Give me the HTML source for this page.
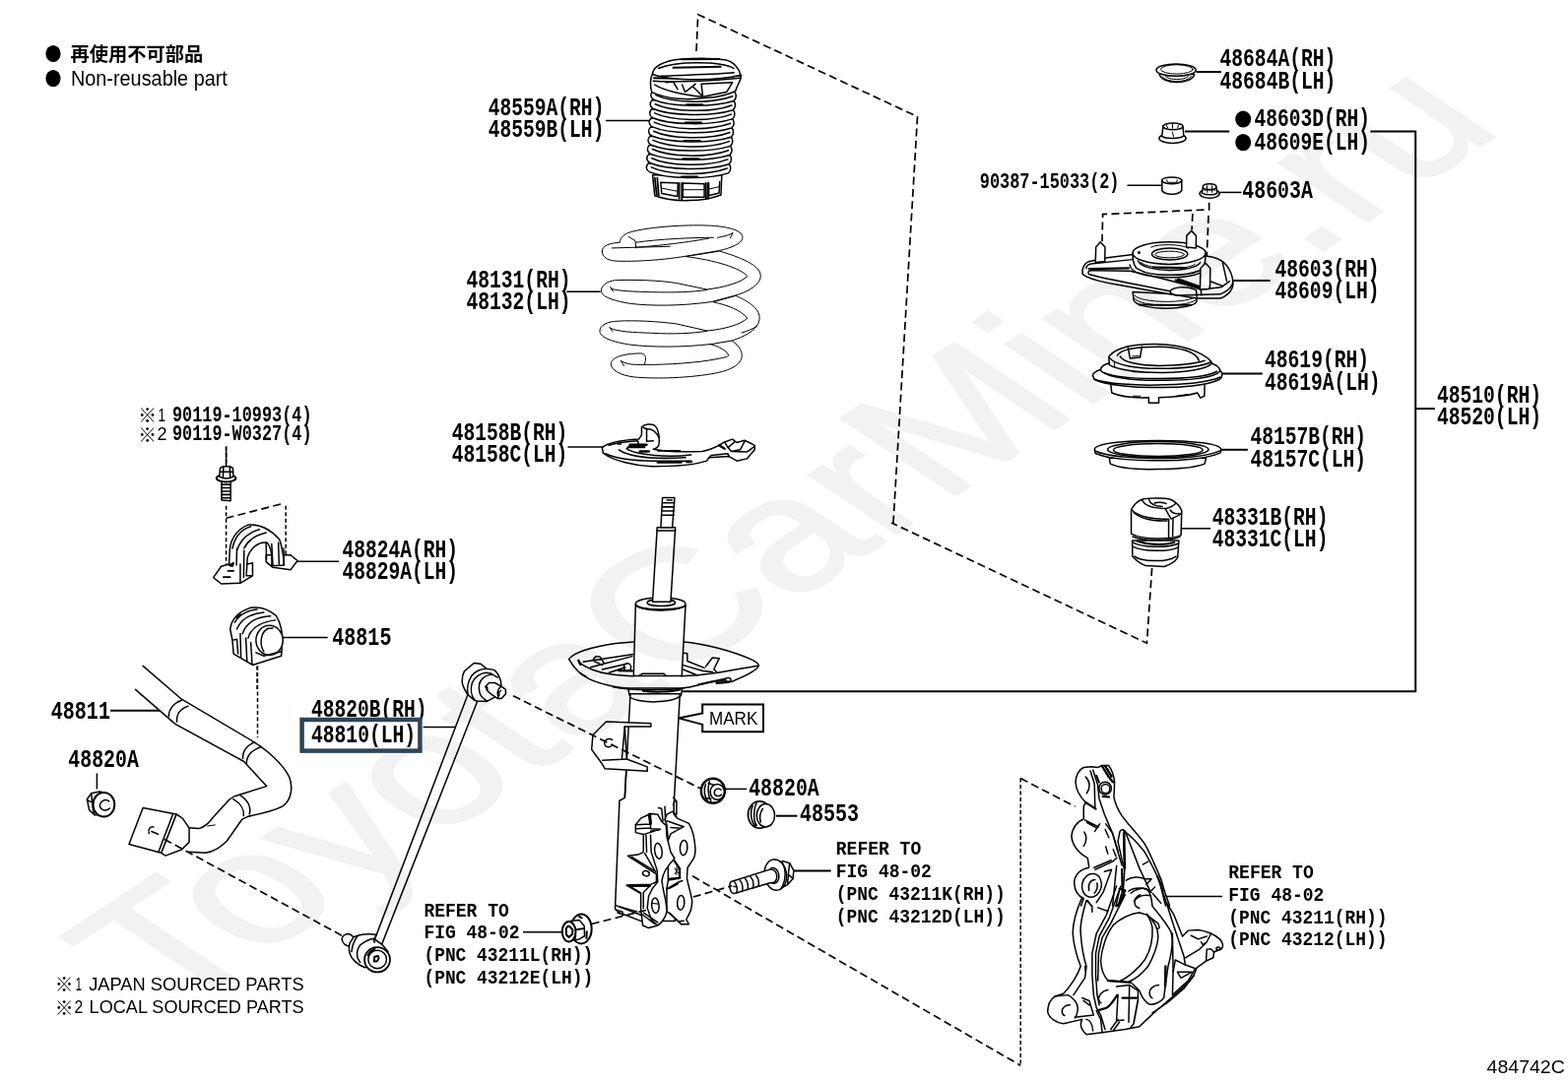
<!DOCTYPE html>
<html><head><meta charset="utf-8"><title>484742C</title>
<style>
html,body{margin:0;padding:0;background:#fff;}
body{width:1592px;height:1099px;overflow:hidden;font-family:"Liberation Sans",sans-serif;}
svg{display:block}
text{fill:#000}
.l{fill:none;stroke:#000;stroke-width:1.5;stroke-linecap:round;stroke-linejoin:round;vector-effect:non-scaling-stroke}
.t{fill:none;stroke:#000;stroke-width:1;stroke-linecap:round;stroke-linejoin:round;vector-effect:non-scaling-stroke}
.w{fill:#fff;stroke:#000;stroke-width:1.5;stroke-linecap:round;stroke-linejoin:round;vector-effect:non-scaling-stroke}
.wt{fill:#fff;stroke:#000;stroke-width:1;stroke-linecap:round;stroke-linejoin:round;vector-effect:non-scaling-stroke}
.d{fill:none;stroke:#000;stroke-width:1.7;stroke-dasharray:8 4.3;vector-effect:non-scaling-stroke}
.dd{fill:none;stroke:#000;stroke-width:1.5;stroke-dasharray:4 2.5;vector-effect:non-scaling-stroke}
.ld{fill:none;stroke:#000;stroke-width:2}
</style></head><body>
<svg width="1592" height="1099" viewBox="0 0 1592 1099">
<rect width="1592" height="1099" fill="#fff"/>
<!-- 01_leaders.svg -->
<g class="ld">
<path d="M1391.4 133.6H1437.2V702.3H693"/>
<path d="M1437 415.1H1457"/>
<path d="M1214.6 73H1240"/>
<path d="M1203 133.6H1248.2"/>
<path d="M1252 285H1289.6"/>
<path d="M1240.6 379.6H1281.7"/>
<path d="M1239 456.8H1266.9"/>
<path d="M112.1 721.8H163.1"/>
<path d="M788 828.7H809.4"/>
<path d="M805.5 884.4H843.7"/>
</g>
<g class="ld" style="stroke-width:1.5">
<path d="M1144.5 188.2H1179.6"/>
<path d="M1238.4 195.4H1260.5"/>
<path d="M1199.5 536.8H1229.2"/>
<path d="M615 122.4H659"/>
<path d="M575.2 296.2H609.6"/>
<path d="M576.4 454H611.9"/>
<path d="M302.2 570.2H344.2"/>
<path d="M286.9 647.6H332.7"/>
<path d="M429.6 738.4H462.3"/>
<path d="M531 946.7H571.1"/>
<path d="M735.4 801.4H758"/>
<path d="M1183 910.6H1241"/>
<path d="M229.6 453.5V473.9"/>
<path d="M98.4 785.5V801.4"/>
</g>

<!-- 10_topright_small.svg -->
<!-- zoom [1150,50,1270,220] s=6.467 -->
<g transform="translate(1150,50) scale(0.15463)">
 <!-- cap 48684A -->
 <path class="w" d="M175 160 C185 235 390 235 405 165 Z"/>
 <path class="t" d="M195 180 C215 222 360 222 385 178"/>
 <path class="t" d="M215 178 C240 205 340 205 365 178"/>
 <ellipse class="w" cx="285" cy="137" rx="130" ry="40"/>
 <ellipse class="t" cx="290" cy="132" rx="106" ry="30"/>
 <!-- nut 48603D -->
 <ellipse class="w" cx="262" cy="585" rx="88" ry="32"/>
 <path class="w" d="M200 505 L192 572 C215 590 310 590 335 570 L330 508 Z"/>
 <ellipse class="w" cx="265" cy="507" rx="65" ry="22"/>
 <path class="t" d="M222 500 L230 515 M262 492 L262 520 M300 500 L296 516 M262 545 L268 575"/>
 <!-- spacer 90387 -->
 <path class="w" d="M193 862 L193 930 C215 960 300 960 322 928 L322 862 Z"/>
 <ellipse class="w" cx="257" cy="862" rx="65" ry="22"/>
 <path class="t" d="M225 858 L228 875 L290 875 L292 858"/>
 <!-- small nut 48603A -->
 <ellipse class="w" cx="505" cy="948" rx="65" ry="30"/>
 <path class="w" d="M462 905 L455 945 C480 960 535 960 555 945 L548 905 Z"/>
 <ellipse class="w" cx="505" cy="903" rx="44" ry="18"/>
 <path class="t" d="M488 897 L490 940 M522 897 L520 940 M470 925 L540 925"/>
</g>

<!-- 11_mount.svg -->
<!-- zoom [1085,195,1275,325] s=8.379 -->
<g transform="translate(1085,195) scale(0.119346)">
 <!-- dashed -->
 <path class="d" d="M1195 90 L1195 150 L290 190 L285 420"/>
 <path class="d" d="M1055 185 L1048 322"/>
 <path class="d" d="M1190 200 L1173 600"/>
 <!-- bottom cylinder -->
 <path class="w" d="M545 850 L555 925 C600 1010 1040 1010 1088 935 L1092 880 Z"/>
 <path class="t" d="M552 900 C600 985 1040 985 1090 910"/>
 <path class="t" d="M560 880 C620 950 1020 950 1085 890"/>
 <path class="l" d="M600 960 L1040 962" style="stroke-width:2;stroke-dasharray:2 1.5"/>
 <!-- base plate -->
 <path class="w" d="M118 695 C108 655 135 605 170 592 L312 562 L548 532 L1165 545 C1240 550 1300 575 1340 620 C1380 670 1400 740 1398 790 C1390 850 1330 895 1290 905 L1100 905 C900 880 600 820 420 790 C300 770 200 745 150 720 C130 710 120 705 118 695 Z"/>
 <path class="l" d="M150 650 C150 630 165 618 190 612 L540 575"/>
 <path class="l" d="M175 655 L510 648" style="stroke-width:2.4"/>
 <path class="l" d="M168 690 C165 675 175 668 195 668 L520 672 C650 700 900 760 1100 820"/>
 <path class="l" d="M170 700 C300 740 600 790 860 845 C900 800 1020 800 1085 835 L1090 890"/>
 <path class="l" d="M860 845 C870 870 900 880 940 880 L1290 870 C1340 850 1380 820 1395 780"/>
 <path class="l" d="M910 750 L1130 830 M930 740 L1140 815" style="stroke-width:2"/>
 <path class="l" d="M1130 880 L1125 830 L1300 810 L1370 760"/>
 <path class="l" d="M1310 600 L1345 760 M1205 760 L1310 800"/>
 <!-- housing tiers -->
 <path class="w" d="M545 520 C545 600 560 650 600 660 C700 720 1000 720 1110 670 C1150 650 1165 600 1165 540 Z"/>
 <path class="l" d="M590 585 C640 690 1060 690 1120 600"/>
 <path class="t" d="M615 600 C680 660 1000 670 1075 615"/>
 <path class="l" d="M520 620 C530 685 620 722 850 727 C1000 727 1090 705 1112 690"/>
 <path class="l" d="M720 640 L1000 645" style="stroke-width:2"/>
 <ellipse class="w" cx="855" cy="520" rx="310" ry="95"/>
 <ellipse class="l" cx="860" cy="528" rx="152" ry="50"/>
 <ellipse class="t" cx="860" cy="532" rx="125" ry="28"/>
 <path class="t" d="M700 470 C760 440 960 440 1020 480"/>
 <rect x="588" y="505" width="22" height="22"/>
 <!-- studs -->
 <path class="w" d="M228 600 L232 470 L270 425 L310 470 L308 590 Z"/>
 <path class="w" d="M1002 470 L1004 372 L1045 330 L1085 372 L1083 478 Z"/>
 <path class="w" d="M1118 830 L1122 650 L1165 605 L1205 650 L1203 800 L1195 825 Z"/>
</g>

<!-- 12_insulator_ring.svg -->
<!-- zoom [1095,335,1255,495] s=6.869 -->
<g transform="translate(1095,335) scale(0.145585)">
 <!-- 48619 lower body -->
 <path class="w" d="M225 380 L232 440 C300 470 420 475 490 472 L490 510 L560 510 L560 472 C680 470 780 455 830 440 L850 475 L878 462 L880 370 Z"/>
 <path class="t" d="M380 462 L430 462 M680 462 L760 450"/>
 <!-- flange -->
 <path class="w" d="M100 322 C95 300 130 285 160 275 L985 280 C1010 300 1005 330 985 345 C900 390 700 405 550 402 C400 405 180 385 110 345 Z"/>
 <path class="l" d="M110 345 C200 378 400 388 550 385 C700 385 900 370 990 330"/>
 <path class="w" d="M155 285 C150 260 180 240 215 232 L930 235 C960 245 990 265 985 290 C940 340 740 355 570 352 C400 355 200 335 155 285 Z"/>
 <path class="l" d="M180 300 C260 335 400 342 570 340 C740 340 900 325 965 290"/>
 <path class="l" d="M380 290 L660 295" style="stroke-width:2.2"/>
 <!-- dome -->
 <path class="w" d="M215 245 L212 190 C230 150 320 112 400 106 C480 98 600 96 680 112 C790 130 900 180 932 232 C900 275 740 300 570 298 C420 298 270 280 215 245 Z"/>
 <path class="l" d="M215 195 C260 250 420 272 570 270 C700 270 850 260 925 225"/>
 <path class="l" d="M270 180 C290 140 400 118 560 118 C700 120 820 150 840 215"/>
 <path class="l" d="M290 185 C310 225 420 250 560 250 C680 250 800 240 880 215"/>
 <path class="l" d="M345 122 L360 200 L430 192 L442 116"/>
 <path class="t" d="M375 185 L420 182 M250 225 L252 260"/>
 <!-- 48157B ring -->
 <path class="w" d="M215 895 L222 935 C300 970 450 975 550 972 C650 975 800 965 880 935 L890 895 Z"/>
 <path class="w" d="M112 835 C112 795 300 772 555 772 C800 772 995 795 995 838 L990 858 C900 900 700 915 555 912 C400 915 200 900 118 862 Z"/>
 <path class="l" d="M115 845 C200 885 400 898 555 896 C700 898 900 885 992 842"/>
 <ellipse class="l" cx="555" cy="835" rx="352" ry="55"/>
 <ellipse class="l" cx="555" cy="838" rx="312" ry="44"/>
</g>

<!-- 13_bumper.svg -->
<!-- zoom [1120,495,1230,605] s=9.99 -->
<g transform="translate(1120,495) scale(0.1001)">
 <!-- lower -->
 <path class="w" d="M296 540 L298 700 C330 740 380 775 430 795 L620 805 C680 785 732 752 756 714 L768 540 Z"/>
 <path class="l" d="M320 700 C380 750 640 770 740 700"/>
 <path class="l" d="M300 600 C400 650 650 660 758 610"/>
 <path class="l" d="M305 560 C400 610 650 620 765 570" />
 <path class="l" d="M345 545 C450 585 620 590 720 560" style="stroke-width:2.2"/>
 <!-- upper -->
 <path class="w" d="M285 470 L285 228 C310 180 350 140 390 125 C440 108 620 105 690 125 C740 150 780 190 797 238 L790 485 C700 530 400 535 285 470 Z"/>
 <path class="l" d="M300 500 C400 545 680 550 780 500"/>
 <path class="l" d="M290 230 C360 300 520 330 665 322 L665 505"/>
 <path class="l" d="M310 255 C380 320 520 345 650 340"/>
 <path class="l" d="M710 310 L705 495"/>
 <path class="l" d="M630 215 C650 250 670 290 690 320 C720 300 780 290 795 260"/>
 <path class="l" d="M395 130 C420 180 500 215 640 215 C690 200 720 180 735 165"/>
 <path class="l" d="M465 120 C470 160 520 190 600 195"/>
 <path class="l" d="M520 160 C560 145 600 150 640 165 M680 230 C700 260 720 275 770 265"/>
 <!-- dashed -->
</g>
<path class="d" d="M1169.6 577 L1164.4 653.3 L905 531"/>

<!-- 20_boot.svg -->
<!-- zoom [640,50,780,215] s=6.657 -->
<g transform="translate(640,50) scale(0.150218)">
<path class="w" d="M150 850 L165 990 C250 1020 330 1025 400 1022 C480 1022 560 1005 612 985 L618 850 Z"/>
<path class="l" d="M165 870 L178 985 M182 870 L192 990" style="stroke-width:1.8"/>
<path class="l" d="M205 900 L212 975 L318 995 L322 905 Z M355 905 L355 1000 L500 1000 L500 910 Z M530 905 L530 990 L600 972 L604 895"/>
<path class="l" d="M330 905 L330 1010 M348 905 L348 1015 M510 905 L512 1012 M524 905 L526 1010" style="stroke-width:1.8"/>
<path class="t" d="M215 940 L315 960 M360 950 L495 950 M535 945 L598 930"/>
<path class="w" d="M122 770 C102 790 104 816 130 830 C242 878 519 884 661 838 C681 822 681 796 669 778 Z"/>
<path class="l" d="M142 798 C252 850 509 860 654 806"/>
<path class="l" d="M345 862 L455 862" style="stroke-width:1.8"/>
<path class="w" d="M125 709 C105 729 107 755 133 769 C245 817 524 823 666 777 C686 761 686 735 674 717 Z"/>
<path class="l" d="M145 737 C255 789 514 799 659 745"/>
<path class="w" d="M129 648 C109 668 111 694 137 708 C249 756 528 762 670 716 C690 700 690 674 678 656 Z"/>
<path class="l" d="M149 676 C259 728 518 738 663 684"/>
<path class="l" d="M354 740 L464 740" style="stroke-width:1.8"/>
<path class="w" d="M133 587 C113 607 115 633 141 647 C253 695 533 701 675 655 C695 639 695 613 683 595 Z"/>
<path class="l" d="M153 615 C263 667 523 677 668 623"/>
<path class="w" d="M137 526 C117 546 119 572 145 586 C257 634 538 640 680 594 C700 578 700 552 688 534 Z"/>
<path class="l" d="M157 554 C267 606 528 616 673 562"/>
<path class="l" d="M362 618 L472 618" style="stroke-width:1.8"/>
<path class="w" d="M141 465 C121 485 123 511 149 525 C261 573 542 579 684 533 C704 517 704 491 692 473 Z"/>
<path class="l" d="M161 493 C271 545 532 555 677 501"/>
<path class="w" d="M144 404 C124 424 126 450 152 464 C264 512 547 518 689 472 C709 456 709 430 697 412 Z"/>
<path class="l" d="M164 432 C274 484 537 494 682 440"/>
<path class="l" d="M371 496 L481 496" style="stroke-width:1.8"/>
<path class="w" d="M148 343 C128 363 130 389 156 403 C268 451 551 457 693 411 C713 395 713 369 701 351 Z"/>
<path class="l" d="M168 371 C278 423 541 433 686 379"/>
<path class="w" d="M152 282 C132 302 134 328 160 342 C272 390 556 396 698 350 C718 334 718 308 706 290 Z"/>
<path class="l" d="M172 310 C282 362 546 372 691 318"/>
<path class="l" d="M379 374 L489 374" style="stroke-width:1.8"/>
<path class="w" d="M150 165 C130 200 135 260 145 290 C250 340 400 345 500 330 C600 325 680 300 712 280 C720 250 740 220 748 190 L745 170 Z"/>
<path class="l" d="M155 215 C260 225 560 215 740 195"/>
<path class="l" d="M160 195 C300 200 560 195 745 178" style="stroke-width:2"/>
<path class="l" d="M240 225 L290 220 L320 270 M350 240 L370 290 L440 235 M420 250 L490 320 L480 235 L690 225 L650 290 L500 320"/>
<path class="l" d="M165 240 C250 290 380 310 490 322"/>
<path class="w" d="M150 170 C150 120 220 80 330 68 C420 60 560 60 640 72 C700 85 735 130 745 175 C650 200 560 205 450 205 C340 205 220 195 150 170 Z"/>
<path class="l" d="M190 130 C260 100 330 92 450 92 C560 92 650 100 700 130"/>
<path class="l" d="M290 125 L610 118 M345 68 L600 66" style="stroke-width:2"/>
<path class="l" d="M205 182 C300 175 600 170 700 158"/>
</g>
<!-- 21_spring.svg -->
<!-- zoom [595,220,795,400] s=6.105 -->
<g transform="translate(595,220) scale(0.1638)">
 <!-- bottom coil -->
 <path class="wt" d="M905 770 C950 800 972 840 965 872 C955 930 870 960 780 975 C600 1005 400 1005 300 995 C210 985 155 950 155 915 C155 875 220 850 340 848 C365 850 374 870 368 895 L362 918 C500 920 700 905 800 885 C850 875 880 870 885 860 C870 830 820 800 760 790 Z"/>
 <path class="t" d="M215 893 L235 925 M222 898 C260 918 300 920 362 918"/>
 <!-- coil 3 -->
 <path class="wt" d="M930 492 C1000 520 1075 570 1075 625 C1078 690 1000 740 900 770 L780 790 C600 812 400 810 280 795 C170 780 85 750 85 710 C85 675 130 650 200 648 C300 642 450 650 560 665 L750 708 C850 700 960 670 1000 630 C960 580 880 550 790 530 Z"/>
 <path class="t" d="M145 685 L165 712 M150 692 C200 715 300 718 400 722 C550 730 650 725 750 710"/>
 <path class="t" d="M965 720 C1000 710 1040 695 1060 678"/>
 <!-- coil 2 -->
 <path class="wt" d="M830 215 C950 250 1080 300 1082 365 C1085 420 1000 470 920 490 L780 528 C600 555 400 555 280 540 C180 525 100 500 95 465 C90 430 130 400 180 395 C300 390 450 395 560 412 L750 452 C850 440 960 410 1000 370 C960 320 800 270 620 248 Z"/>
 <path class="t" d="M150 435 L168 465 M158 448 C200 462 300 465 400 468 C550 472 650 468 750 455"/>
 <!-- top loop -->
 <path class="wt" d="M100 215 C95 180 150 165 210 160 C210 130 240 100 300 90 C400 65 600 50 750 55 C880 60 965 85 970 125 C975 165 900 195 820 212 L620 245 C450 275 250 280 180 275 C130 270 100 250 100 215 Z"/>
 <path class="t" d="M265 125 L305 150 L310 195 M160 195 L520 185 M310 160 C450 140 650 130 790 130 M310 190 C400 185 600 165 760 135 M815 130 C850 125 890 115 910 100 L895 132"/>
</g>

<!-- 22_lower_insulator.svg -->
<!-- zoom [600,415,780,490] s=8.844 -->
<g transform="translate(600,415) scale(0.11307)">
 <path class="w" d="M100 350 C150 310 250 285 430 275 L455 235 L455 165 C480 140 540 135 570 150 C600 175 615 220 612 300 C612 340 600 350 560 365 C650 385 850 390 1000 385 C1080 370 1140 340 1200 300 L1270 275 L1310 305 L1380 285 L1470 330 L1470 370 L1400 450 L1310 470 L1240 430 L1060 440 L1040 470 C950 500 750 520 550 520 C400 515 200 470 110 400 Z"/>
 <path class="l" d="M500 180 L500 295 L560 290 M500 185 C540 180 580 200 610 260 M470 170 L500 185"/>
 <path class="l" d="M160 330 C250 300 330 295 420 290 L430 320 C380 325 340 335 320 360 C400 420 700 440 900 415"/>
 <path class="l" d="M350 325 L500 325 M340 345 L480 345 M440 385 L520 385" style="stroke-width:2.4"/>
 <path class="l" d="M600 380 L800 378 M240 318 L270 318"/>
 <path class="l" d="M130 405 C250 460 420 470 560 470 L900 470" />
 <path class="l" d="M600 482 L810 482 M860 478 L900 478" style="stroke-width:2.6"/>
 <path class="l" d="M250 370 C350 440 600 455 850 440"/>
 <path class="l" d="M1060 440 L1080 420 L1230 405 L1240 430 M1200 300 L1230 350 L1290 300 M1230 350 L1260 385 L1340 370 L1380 295 M1260 385 L1400 390 L1470 340"/>
 <path class="l" d="M1150 330 L1200 360" style="stroke-width:2.4"/>
</g>

<!-- 30_strut_upper.svg -->
<!-- seat: zoom [570,630,790,720] s=7.236 -->
<g transform="translate(570,630) scale(0.138198)">
 <!-- collar under seat -->
 <path class="w" d="M488 490 L500 550 C560 580 650 588 700 588 C760 588 840 575 880 550 L888 490 Z"/>
 <path class="l" d="M600 520 C680 530 800 528 870 510" style="stroke-width:2"/>
 <!-- dish -->
 <path class="w" d="M55 285 C90 240 200 200 400 170 L530 160 L895 160 C1050 172 1250 225 1400 290 C1430 305 1450 320 1450 332 C1440 360 1380 395 1300 430 L1250 452 C1200 445 1150 445 1100 452 L1000 478 C960 490 920 497 880 500 L500 500 C440 498 380 488 350 480 C290 465 230 445 200 430 C140 400 90 350 55 285 Z"/>
 <path class="l" d="M130 310 C180 350 270 385 350 395 C420 405 480 410 530 410 M880 410 C960 408 1080 395 1150 385 C1230 372 1350 350 1440 335"/>
 <path class="l" d="M380 490 C450 505 550 512 650 512 C760 512 850 508 900 500" />
 <path class="l" d="M1010 472 L1200 432 M1140 462 L1225 456" style="stroke-width:2.2"/>
 <ellipse class="l" cx="1225" cy="440" rx="20" ry="16"/>
 <path class="l" d="M140 390 L180 415" style="stroke-width:1.8"/>
 <path class="l" d="M125 295 L140 325" style="stroke-width:2.4"/>
 <path class="l" d="M235 285 L255 265 L285 270 L310 310 M160 305 L530 250 M215 345 L520 265 M300 362 L480 320 M350 385 L470 345 M240 300 L300 330"/>
 <ellipse class="l" cx="485" cy="345" rx="26" ry="28"/>
 <path class="l" d="M420 370 L520 372" style="stroke-width:2.2"/>
 <path class="l" d="M895 240 L925 245 L925 300 L1050 350 M895 330 L1040 372 M895 362 L1000 405 M1060 340 L1110 275 L1160 280 L1120 360 L1145 385 M1040 372 L1110 380"/>
</g>
<!-- zoom [560,495,800,725] s=4.779 -->
<g transform="translate(560,495) scale(0.20925)">
 <!-- body -->
 <path class="w" d="M408 565 L398 915 L632 915 L650 572 Z"/>
 <path class="l" d="M425 915 L440 905 L545 905 L555 915"/>
 <ellipse class="w" cx="529" cy="566" rx="121" ry="31"/>
 <path class="l" d="M410 572 C440 600 620 600 650 574" style="stroke-width:2"/>
 <ellipse class="l" cx="532" cy="560" rx="68" ry="16"/>
 <!-- rod -->
 <path class="w" d="M512 205 L490 556 L578 556 L600 205 Z"/>
 <path class="w" d="M512 195 L600 195 L600 210 L512 210 Z"/>
 <path class="w" d="M538 50 L530 195 L586 195 L597 50 Z"/>
 <path class="l" d="M540 75 L596 75 M538 95 L595 95 M537 115 L594 115 M536 135 L593 135 M560 62 L585 62" style="stroke-width:1.6"/>
</g>

<!-- 31_strut_lower.svg -->
<!-- zoom [570,690,750,960] s=4.072 -->
<g transform="translate(570,690) scale(0.24558)">
 <!-- tube -->
 <path class="w" d="M285 60 L262 490 L240 502 L222 950 L240 965 L330 1000 L470 1000 L465 520 L490 60 Z"/>
 <path class="l" d="M284 75 C330 100 450 100 492 70"/>
 <path class="l" d="M262 490 L268 380 M462 520 L470 500"/>
 <path class="l" d="M225 935 L330 975 M232 965 L260 975" />
 <!-- stabilizer link bracket -->
 <path class="w" d="M370 182 L185 175 L130 230 L125 290 L165 345 L180 370 L355 380 L355 362 L270 330 L262 195 L370 195 Z"/>
 <path class="l" d="M170 335 L270 330 M262 195 L250 330"/>
 <path class="l" d="M210 250 C190 240 172 255 180 272 C188 285 205 280 212 270"/>
</g>

<!-- knuckle bracket: zoom [615,810,725,955] s=7.58 -->
<g transform="translate(615,810) scale(0.131926)">
 <path class="l" d="M405 80 L430 85 L440 180 M455 70 L460 180 M520 0 L545 30 L545 130"/>
 <!-- right plate -->
 <path class="w" d="M470 130 L520 105 L550 160 L640 200 C665 240 685 320 690 400 C688 440 680 470 670 480 L630 540 L625 620 C635 680 660 750 665 800 C662 840 655 870 650 880 L620 940 L640 975 L580 975 L490 890 L470 880 L470 700 L480 640 L480 330 L470 210 L455 170 Z"/>
 <ellipse class="l" cx="600" cy="387" rx="28" ry="58" transform="rotate(4 600 387)"/>
 <ellipse class="l" cx="578" cy="810" rx="27" ry="56" transform="rotate(4 578 810)"/>
 <path class="l" d="M470 180 L600 225 L500 280 L480 330 M500 232 L580 236 M520 120 L540 150"/>
 <path d="M488 415 L578 545 L578 628 L482 642 L482 620 L560 612 L560 550 L488 445 Z" fill="#000"/>
 <path class="l" d="M530 545 L560 585 M560 545 L530 590 M545 535 L545 595" style="stroke-width:1"/>
 <path class="l" d="M470 705 L560 652 L590 640 M490 700 L555 665"/>
 <path class="l" d="M490 890 L560 955 L600 950" />
 <!-- left plate -->
 <path class="w" d="M345 125 L400 130 L430 185 L465 215 L470 300 L500 420 L530 470 C480 520 440 580 432 640 C440 720 470 800 470 880 C460 930 420 975 400 985 L330 1005 L285 985 L270 860 L270 740 L160 675 L350 668 L390 650 L390 590 L170 450 L250 440 L290 420 L290 285 L230 270 L230 210 L270 160 Z"/>
 <path class="l" d="M230 210 L345 205 M235 240 L340 235 M345 125 L345 240 L420 245 L290 285 M345 260 L410 250"/>
 <path class="l" d="M335 130 L345 200" style="stroke-width:3"/>
 <path class="l" d="M310 290 L315 420 M300 430 L385 575 M200 458 L375 565"/>
 <ellipse class="l" cx="310" cy="585" rx="26" ry="20" transform="rotate(20 310 585)"/>
 <path class="l" d="M185 686 L340 680 L290 732 M290 735 L290 855 M180 682 L270 735" />
 <path class="l" d="M190 680 L340 678" style="stroke-width:2.4"/>
 <path class="l" d="M345 290 L350 420 L395 560 L400 650 L360 700 L330 760 L320 850 L350 940 L400 985"/>
 <ellipse class="l" cx="405" cy="412" rx="28" ry="60" transform="rotate(-8 405 412)"/>
 <ellipse class="l" cx="382" cy="832" rx="28" ry="58" transform="rotate(-4 382 832)"/>
 <path class="l" d="M360 815 L405 820" style="stroke-width:1.2"/>
 <path class="l" d="M280 900 L380 975 M292 888 L400 962"/>
 <path class="l" d="M100 840 L240 880 M80 865 L130 880 L130 905"/>
</g>

<!-- 32_nuts_bolt.svg -->
<!-- zoom [700,775,860,925] s=7.325 -->
<g transform="translate(700,775) scale(0.136519)">
 <!-- nut 48820A -->
 <ellipse class="w" cx="175" cy="207" rx="88" ry="92" style="stroke-width:2.4"/>
 <path class="l" d="M120 160 C105 200 110 250 135 280 M150 135 C135 170 135 240 160 285"/>
 <ellipse class="w" cx="207" cy="215" rx="52" ry="58"/>
 <path class="l" d="M235 200 C215 180 185 195 185 222 C188 248 220 252 238 235"/>
 <path class="l" d="M140 150 L185 165 M120 260 L160 265"/>
 <!-- cap 48553 -->
 <ellipse class="w" cx="522" cy="385" rx="86" ry="100" style="stroke-width:1.8"/>
 <path class="l" d="M470 320 C450 360 455 430 490 470 M500 300 C480 330 470 420 500 465"/>
 <ellipse class="w" cx="567" cy="390" rx="67" ry="86"/>
 <path class="l" d="M545 340 C525 370 520 410 530 440"/>
 <!-- bolt -->
 <path class="w" d="M690 728 L745 745 L775 800 L770 860 L730 905 L690 925 Z"/>
 <path class="l" d="M745 745 L735 830 L770 860 M735 830 L730 905"/>
 <ellipse class="w" cx="640" cy="832" rx="82" ry="115" transform="rotate(-8 640 832)"/>
 <path class="l" d="M690 740 C720 790 720 880 680 935"/>
 <ellipse class="w" cx="625" cy="838" rx="40" ry="58" transform="rotate(-8 625 838)"/>
 <path class="w" d="M310 882 L600 792 C640 790 650 820 650 850 C648 880 630 895 600 892 L335 970 C300 975 290 900 310 882 Z"/>
 <path class="l" d="M335 885 C350 900 360 940 350 965 M375 872 C392 890 400 925 392 952 M415 860 C432 878 440 915 432 942 M455 848 C472 866 480 900 472 930 M495 836 C510 852 520 885 512 918 M330 920 L350 920"/>
</g>

<!-- 33_nut_bl_mark.svg -->
<!-- zoom [555,910,625,980] s=15.7 -->
<g transform="translate(555,910) scale(0.063694)">
 <ellipse class="w" cx="552" cy="525" rx="165" ry="235" style="stroke-width:2"/>
 <path class="w" d="M380 400 L520 385 L600 480 L605 640 L520 690 L430 705 Z"/>
 <path class="l" d="M445 540 L590 520 M460 620 L450 690 M640 570 L635 680 M520 330 L560 350" style="stroke-width:2"/>
 <ellipse class="w" cx="355" cy="570" rx="108" ry="160" style="stroke-width:2"/>
 <path class="l" d="M340 480 L310 520 L315 620 L355 660 L410 610 L415 540 L370 490 Z" style="stroke-width:2"/>
</g>
<path d="M713.2 724.5 V715.5 H775 V743.2 H713.2 V735.9 L688.8 729.4 Z" fill="#fff" stroke="#000" stroke-width="2" stroke-linejoin="miter"/>

<!-- 40_link.svg -->
<!-- zoom [330,660,530,1000] s=3.23 -->
<g transform="translate(330,660) scale(0.309598)">
 <!-- rod -->
 <path class="w" d="M468 148 L163 950 L186 967 L500 168 Z"/>
</g>

<!-- top joint: zoom [455,660,535,740] s=13.74 -->
<g transform="translate(455,660) scale(0.07278)">
 <path class="w" d="M265 615 C220 540 190 480 195 430 C195 370 215 320 225 300 L360 185 L450 195 L540 265 L640 280 C680 310 715 370 735 440 L740 500 L650 660 L540 720 L400 715 L360 700 Z"/>
 <path class="l" d="M275 620 C260 540 280 440 330 360 C380 300 440 270 530 265"/>
 <path class="l" d="M370 705 C320 640 310 540 335 460 C370 380 450 330 520 320 L600 330 L690 385"/>
 <path class="l" d="M545 715 C500 690 450 640 440 600 C420 520 440 440 480 400 C510 370 550 355 590 345 L610 350"/>
 <path class="w" d="M520 515 L570 460 L650 460 L740 510 L800 550 L805 610 L745 680 L690 680 L600 620 L545 570 Z"/>
 <path class="l" d="M545 520 L548 568 M740 510 C700 540 680 600 700 670"/>
 <path class="l" d="M690 598 L712 590 L738 568 M712 590 L712 640" style="stroke-width:1.3"/>
</g>

<!-- bottom joint: zoom [330,920,420,1000] s=13.73 -->
<g transform="translate(330,920) scale(0.072833)">
 <path class="w" d="M235 470 C238 430 270 395 320 390 C350 392 380 415 400 440 L345 560 C300 565 245 530 235 470 Z"/>
 <path class="w" d="M400 436 C480 400 600 388 712 400 L690 470 L800 545 L880 640 L560 862 C480 835 400 760 370 720 C330 650 325 590 345 520 Z"/>
 <path class="l" d="M450 430 C410 480 380 560 370 640"/>
 <path class="l" d="M680 455 C600 470 520 520 480 560 C450 610 440 680 455 730 L490 790"/>
 <path class="l" d="M680 470 L690 512" />
 <ellipse class="w" cx="728" cy="752" rx="178" ry="174" style="stroke-width:1.8"/>
 <ellipse class="l" cx="730" cy="748" rx="128" ry="126"/>
 <path class="l" d="M600 690 C620 650 650 620 690 600" style="stroke-width:2.4"/>
 <path class="l" d="M690 710 L685 775 L715 775 C745 765 755 730 740 700 Z" style="stroke-width:2"/>
</g>

<!-- 41_stab_bar.svg -->
<!-- zoom [60,660,320,900] s=4.581 -->
<g transform="translate(60,660) scale(0.218293)">
 <!-- bar upper run + bend -->
 <path class="w" d="M390 75 L570 230 L900 425 C960 460 1040 530 1070 590 C1090 640 1080 700 1040 728 C1000 750 930 765 880 775 L850 790 L780 890 C750 920 710 942 680 945 L600 940 L570 930 L600 828 L650 832 C680 825 700 800 720 775 L780 710 C790 695 810 685 820 680 L965 635 L860 520 L540 345 L355 185"  style="stroke:none"/>
 <path class="l" d="M390 75 L570 230 L900 425 C960 460 1040 530 1070 590 C1090 640 1080 700 1040 728 C1000 750 930 765 880 775 L850 790 L780 890 C750 920 710 942 680 945 L600 940"/>
 <path class="l" d="M355 185 L540 345 L860 520 L965 635 L820 680 C810 685 790 695 780 710 L720 775 C700 800 680 825 650 832 L600 828"/>
 <path class="l" d="M570 235 C530 250 510 280 510 310 M600 262 C560 275 545 305 548 335"/>
 <path class="l" d="M910 430 C870 445 852 475 855 505 M938 452 C895 465 872 495 872 528"/>
 <path class="l" d="M810 695 C845 715 862 745 858 772 M840 675 C880 700 895 735 885 765"/>
 <path class="t" d="M690 820 L725 815"/>
 <!-- end plate -->
 <path class="w" d="M545 765 L575 785 L605 830 L605 895 L570 930 L495 958 L475 945 Z"/>
 <path class="w" d="M390 735 L545 765 L475 945 L325 905 Z"/>
 <path class="l" d="M528 768 L462 942"/>
 <path class="l" d="M440 825 C425 820 412 835 418 855 M430 845 L460 858"/>
 <!-- nut 48820A left -->
 <path class="w" d="M130 695 L150 668 L190 660 L215 668 L200 770 L165 768 L140 745 Z"/>
 <path class="l" d="M150 668 L158 745 L165 768 M130 700 L158 712"/>
 <ellipse class="w" cx="208" cy="720" rx="50" ry="56" style="stroke-width:2"/>
 <path class="l" d="M232 705 C215 690 188 705 190 728 C195 750 222 752 235 738"/>
</g>

<!-- 42_bracket_bushing.svg -->
<!-- zoom [195,450,325,700] s=4.392 -->
<g transform="translate(195,450) scale(0.227687)">
 <path class="dd" d="M152 15 L152 100 M152 280 L152 585 M418 280 L418 500"/>
 <path class="d" d="M152 335 L405 270"/>
 <!-- bolt -->
 <path class="w" d="M132 165 L132 255 L172 258 L172 165 Z"/>
 <path class="l" d="M132 185 L172 185 M132 200 L172 200 M132 215 L172 215 M132 230 L172 230 M132 245 L172 245" style="stroke-width:1.6"/>
 <ellipse class="w" cx="152" cy="157" rx="43" ry="16" style="stroke-width:2"/>
 <path class="w" d="M122 150 L125 112 L140 104 L168 104 L182 112 L184 150 C165 160 140 160 122 150 Z"/>
 <path class="l" d="M140 106 L138 152 M168 106 L170 152 M128 128 L180 128"/>
 <!-- bracket right foot -->
 <path class="w" d="M330 500 L410 500 L440 500 L470 525 L440 565 L360 555 L330 530 Z"/>
 <!-- arch -->
 <path class="w" d="M95 600 L130 550 L165 540 L168 480 C170 430 200 385 250 365 C300 360 350 385 390 430 C400 460 408 500 410 545 L355 548 C358 500 352 465 335 445 C300 435 260 470 247 510 L242 592 L270 592 L215 625 L130 628 Z"/>
 <path class="l" d="M180 470 C190 420 220 385 262 372 M200 480 C215 430 250 400 300 385 M232 470 C250 430 290 410 330 400 M215 540 L215 620 M232 480 L230 600 M200 470 L198 545"/>
 <path class="l" d="M330 445 L332 520 M355 450 L360 545 M385 445 L388 540 M408 470 L410 545"/>
 <path class="l" d="M245 540 L270 535 L270 590"/>
 <path class="l" d="M165 545 L185 535 L180 550 Z M160 570 L185 570 M140 598 L170 598" style="stroke-width:1.8"/>
 <!-- bushing -->
 <path class="w" d="M170 830 C175 790 200 755 260 735 C300 728 340 740 375 770 C395 800 405 850 402 890 L398 950 L270 990 L185 940 L180 880 Z"/>
 <path class="l" d="M190 800 C210 765 250 745 290 742 M200 830 C220 780 270 760 320 755 M225 850 C240 800 290 775 350 772 M250 870 C262 825 300 800 370 790"/>
 <path class="l" d="M215 850 L218 955 M240 870 L245 975 M262 890 L268 988 M180 880 L200 875 L205 940"/>
 <path class="l" d="M200 780 L215 765" style="stroke-width:2.2"/>
 <ellipse class="w" cx="345" cy="880" rx="60" ry="66"/>
 <path class="l" d="M335 830 C305 845 300 900 320 930 M335 828 L360 826" />
 <path class="l" d="M285 935 L320 950 L398 930"/>
 <path class="dd" d="M290 995 L290 1099"/>
</g>

<!-- 50_knuckle.svg -->
<!-- silhouette fill: zoom [1050,765,1260,1065] s=3.662 -->
<g transform="translate(1050,765) scale(0.273075)">
 <path d="M165 70 L200 50 L250 45 L280 60 L300 100 L290 170 L320 230 L400 310 L440 380 L470 450 L490 530 L540 620 L555 690 L570 665 L620 655 L680 680 L700 710 L690 735 L650 745 L640 770 L600 790 L560 850 L500 900 L440 950 L380 1000 L300 1040 L220 1050 L180 1035 L175 1010 L110 1000 L60 970 L55 930 L90 900 L130 880 L160 800 L150 700 L170 600 L200 540 L165 520 L150 480 L170 440 L200 430 L205 390 L160 360 L140 310 L150 270 L185 245 L190 190 L160 150 L155 100 Z" fill="#fff" stroke="none"/>
</g>
<!-- upper: zoom [1075,770,1215,920] s=7.329 -->
<g transform="translate(1075,770) scale(0.136444)">
 <path class="l" d="M185 70 C150 85 125 130 125 180 C128 240 160 290 200 330 L185 360 L185 455 C140 470 100 520 95 580 C98 650 150 710 215 745 L225 815 C160 825 115 870 115 930 C118 990 150 1030 185 1045"/>
 <path class="l" d="M185 70 L240 65 L290 70 L320 55 L370 55 C395 85 410 130 415 180 L410 290 C420 340 450 400 470 430 C520 500 600 580 640 640 C680 710 730 830 760 900 L790 1000 L825 1099"/>
 <path class="l" d="M480 540 C540 580 600 650 640 700 C680 770 730 870 750 920 L795 1099"/>
 <path class="l" d="M200 140 C235 175 235 225 208 262"/>
 <path class="l" d="M235 95 L265 190 L270 370 M255 90 L290 200 L300 300 L340 420 L400 560 L440 700 L470 800"/>
 <path class="l" d="M200 330 L275 378" style="stroke-width:2.2"/>
 <ellipse class="l" cx="345" cy="225" rx="46" ry="48"/>
 <ellipse class="l" cx="348" cy="228" rx="32" ry="34"/>
 <path class="l" d="M322 60 L372 140 L408 185 M345 58 L395 140" style="stroke-width:2.4;stroke-dasharray:2 1.5"/>
 <path class="l" d="M325 285 L375 290 M280 130 L300 180" style="stroke-width:2"/>
 <path class="l" d="M190 550 C210 585 205 625 185 655"/>
 <path class="l" d="M195 462 L295 512 M210 480 L280 520 M305 490 L268 545"/>
 <path class="l" d="M350 490 L400 560 L440 690 M345 530 L372 592 M350 660 L365 712 M405 680 L425 730"/>
 <path class="l" d="M455 545 C465 530 490 525 500 560 L600 820 L680 990 M455 545 L440 620 L470 760 L490 830 L478 1000"/>
 <path class="l" d="M485 560 L490 820" style="stroke-width:2.6"/>
 <path class="l" d="M470 830 L475 1000" style="stroke-width:2.4;stroke-dasharray:2 1.5"/>
 <ellipse class="l" cx="245" cy="948" rx="72" ry="88" transform="rotate(12 245 948)"/>
 <path class="l" d="M270 905 C235 905 215 940 225 985 M285 930 C290 960 280 990 265 1005"/>
 <path class="l" d="M270 830 L400 770 L432 742 M262 815 L390 760" />
 <path class="l" d="M340 845 L392 830 L330 1000 L280 1075 M185 1045 L165 1099 M215 1060 L240 1099"/>
 <path class="l" d="M430 800 L400 1099 M450 990 L425 1099 M470 1000 L440 1099"/>
 <path class="l" d="M500 910 C540 880 600 880 640 900 L690 900 L650 942 M520 990 C560 960 640 955 690 1000 M560 1065 C590 1025 640 1015 685 1025 M700 1010 L760 1080 M690 985 L715 960"/>
 <path class="l" d="M625 792 L665 770"/>
 <path class="l" d="M735 880 L775 985" style="stroke-width:2.4"/>
</g>
<!-- lower: zoom [1055,900,1255,1060] s=6.87 -->
<g transform="translate(1055,900) scale(0.14556)">
 <path class="l" d="M300 80 C260 170 235 250 235 330 C240 400 255 470 290 560 C270 620 220 700 170 750 L110 770 C80 790 60 830 60 880 C70 920 120 955 170 960 L300 930 C285 960 290 1000 330 1035 L440 1022 L600 1000 L700 980 C740 940 800 880 900 800 C960 750 1040 680 1080 620 L1100 570 L1170 520 L1215 500 L1220 460 L1270 440 C1290 425 1280 390 1260 370 C1230 340 1160 310 1110 305 L1040 310 L1000 350"/>
 <path class="l" d="M700 185 C640 190 560 230 520 270 C470 330 435 440 430 520 C432 580 455 630 480 660 L560 665 C620 640 700 570 740 510 C775 450 795 380 790 290 C780 240 760 205 750 200 Z"/>
 <path class="l" d="M750 195 C800 240 830 300 830 350 C828 420 790 510 760 560 C720 610 660 655 620 670 M750 200 L830 260 L840 290 L825 300"/>
 <path class="l" d="M540 0 L470 200 L400 330 L370 470 L370 620 L380 760 L400 850 L430 900 L460 1000"/>
 <path class="l" d="M570 0 L490 220 L420 350 L395 470 L395 620 L405 760 L420 830"/>
 <path class="l" d="M600 60 L500 260 L440 360 L415 470 L410 660"/>
 <path class="l" d="M560 20 L600 30 L560 120 L540 140" style="stroke-width:2.2"/>
 <path class="l" d="M640 50 C670 20 720 10 750 20 C775 40 785 80 790 140 C830 190 890 260 920 320 C940 380 930 450 900 560 L880 700 L870 780 C850 810 800 830 770 825 C740 810 715 770 700 730 L650 680"/>
 <path class="l" d="M705 60 C675 70 660 100 668 125 C675 145 690 152 700 152"/>
 <path class="l" d="M835 690 C800 690 770 715 770 745 C772 765 780 778 790 782"/>
 <path class="l" d="M480 725 C440 730 415 760 415 790 C418 805 425 812 432 815"/>
 <path class="l" d="M850 0 L880 100 L940 200 L1000 350 M870 60 L940 280 L1010 490 L1020 550"/>
 <path class="l" d="M1020 500 L1120 440 L1170 390 L1200 330 M1060 345 L1110 370 L1170 350 M1130 390 L1145 412 L1160 395 M1170 440 L1165 520 M1220 460 L1200 440 L1180 440"/>
 <ellipse class="l" cx="1250" cy="436" rx="14" ry="10"/>
 <path class="l" d="M950 515 L1020 550 L1090 575 L1040 660 L930 760 L935 600 Z M965 600 L1065 600 L990 642 Z"/>
 <path class="l" d="M882 560 L880 700" style="stroke-width:2.4"/>
 <path class="l" d="M930 330 L935 600"/>
 <path class="l" d="M215 830 C185 825 160 850 160 875 C162 895 172 902 178 904 M110 770 L200 760 C240 775 268 820 270 850 C268 890 258 910 250 920"/>
 <path class="l" d="M540 700 L630 690 L690 730 L690 800 L660 960 L640 985 M550 760 L540 940 L590 935 M630 700 L625 950 M690 790 L660 950"/>
 <path class="l" d="M580 780 L680 780 M545 760 C520 800 490 840 470 850 L420 865" style="stroke-width:2.2"/>
 <path class="l" d="M300 780 L350 800 L380 900 L250 915 M310 800 L350 830 M330 930 C355 935 372 960 375 1010 M440 1020 L430 930 L400 870 M500 1000 L550 930 M520 1005 L560 950"/>
 <path class="l" d="M790 885 L900 810 L1010 715 L1080 625" style="stroke-dasharray:2.5 1.5"/>
 <path class="l" d="M330 100 L370 140 L370 180 M410 150 L480 175 M330 100 C300 200 285 280 290 330 C295 400 310 500 330 560 L320 640 L240 760 M320 560 L325 610"/>
 <path class="l" d="M480 660 L640 672" style="stroke-width:2.2"/>
</g>

<!-- 90_dashed.svg -->
<path class="d" d="M707 52 L708.7 14.7 L931.5 118.5 L906.9 531.7"/>
<path class="d" d="M521 706.8 L711 800.8"/>
<path class="d" d="M166.9 852.4 L348.4 951"/>
<path class="d" d="M600.7 938.5 L656 924.5 M703.8 911 L743.2 899.8"/>
<path class="d" d="M703 889.8 L1036.2 1082.2"/>
<path class="d" d="M1036.2 790.6 L1091.5 819.2"/>
<path class="dd" d="M1036.2 790.6 V1082.2"/>
<path class="dd" d="M261.5 676.5 V749"/>

<!-- 99_watermark.svg -->
<text transform="matrix(1.7173 -1.1414 1.685 1.13 173.4 1032)" font-family="Liberation Sans" font-size="100" style="fill:#f2f2f2;stroke:#f2f2f2;stroke-width:1.4;mix-blend-mode:multiply" x="0" y="0">ToyotaCarMine.ru</text>

<g id="texts">
<ellipse cx="54" cy="54.5" rx="7.6" ry="8.6"/>
<ellipse cx="54" cy="79.6" rx="7.6" ry="8.6"/>
<text x="71.5" y="61.5" font-family="&quot;Liberation Sans&quot;, &quot;Noto Sans CJK JP&quot;, sans-serif" font-weight="bold" font-size="19.25" textLength="134.8" lengthAdjust="spacingAndGlyphs" xml:space="preserve">再使用不可部品</text>
<text x="71.9" y="87.3" font-family="Liberation Sans" font-weight="normal" font-size="22.24" textLength="159.0" lengthAdjust="spacingAndGlyphs" xml:space="preserve" >Non-reusable part</text>
<text x="495.8" y="116.6" font-family="Liberation Mono" font-weight="bold" font-size="25.81" textLength="117.6" lengthAdjust="spacingAndGlyphs" xml:space="preserve" >48559A(RH)</text>
<text x="495.8" y="138.6" font-family="Liberation Mono" font-weight="bold" font-size="25.81" textLength="117.6" lengthAdjust="spacingAndGlyphs" xml:space="preserve" >48559B(LH)</text>
<text x="1238.6" y="66.7" font-family="Liberation Mono" font-weight="bold" font-size="25.81" textLength="117.6" lengthAdjust="spacingAndGlyphs" xml:space="preserve" >48684A(RH)</text>
<text x="1238.6" y="89.9" font-family="Liberation Mono" font-weight="bold" font-size="25.81" textLength="117.6" lengthAdjust="spacingAndGlyphs" xml:space="preserve" >48684B(LH)</text>
<ellipse cx="1262.2" cy="121" rx="8" ry="8.6"/>
<ellipse cx="1262.2" cy="144.6" rx="8" ry="8.6"/>
<text x="1273.5" y="128.4" font-family="Liberation Mono" font-weight="bold" font-size="25.81" textLength="117.6" lengthAdjust="spacingAndGlyphs" xml:space="preserve" >48603D(RH)</text>
<text x="1273.5" y="152.1" font-family="Liberation Mono" font-weight="bold" font-size="25.81" textLength="117.6" lengthAdjust="spacingAndGlyphs" xml:space="preserve" >48609E(LH)</text>
<text x="1261.3" y="200.5" font-family="Liberation Mono" font-weight="bold" font-size="25.81" textLength="71.6" lengthAdjust="spacingAndGlyphs" xml:space="preserve" >48603A</text>
<text x="1294.5" y="280.8" font-family="Liberation Mono" font-weight="bold" font-size="25.81" textLength="106.1" lengthAdjust="spacingAndGlyphs" xml:space="preserve" >48603(RH)</text>
<text x="1294.5" y="302.9" font-family="Liberation Mono" font-weight="bold" font-size="25.81" textLength="106.1" lengthAdjust="spacingAndGlyphs" xml:space="preserve" >48609(LH)</text>
<text x="1284.0" y="373.4" font-family="Liberation Mono" font-weight="bold" font-size="25.81" textLength="106.1" lengthAdjust="spacingAndGlyphs" xml:space="preserve" >48619(RH)</text>
<text x="1284.0" y="396.2" font-family="Liberation Mono" font-weight="bold" font-size="25.81" textLength="117.6" lengthAdjust="spacingAndGlyphs" xml:space="preserve" >48619A(LH)</text>
<text x="1269.5" y="451.2" font-family="Liberation Mono" font-weight="bold" font-size="25.81" textLength="117.6" lengthAdjust="spacingAndGlyphs" xml:space="preserve" >48157B(RH)</text>
<text x="1269.5" y="474.4" font-family="Liberation Mono" font-weight="bold" font-size="25.81" textLength="117.6" lengthAdjust="spacingAndGlyphs" xml:space="preserve" >48157C(LH)</text>
<text x="1230.8" y="533.1" font-family="Liberation Mono" font-weight="bold" font-size="25.81" textLength="117.6" lengthAdjust="spacingAndGlyphs" xml:space="preserve" >48331B(RH)</text>
<text x="1230.8" y="555.4" font-family="Liberation Mono" font-weight="bold" font-size="25.81" textLength="117.6" lengthAdjust="spacingAndGlyphs" xml:space="preserve" >48331C(LH)</text>
<text x="1458.9" y="408.6" font-family="Liberation Mono" font-weight="bold" font-size="25.81" textLength="106.1" lengthAdjust="spacingAndGlyphs" xml:space="preserve" >48510(RH)</text>
<text x="1458.9" y="431.2" font-family="Liberation Mono" font-weight="bold" font-size="25.81" textLength="106.1" lengthAdjust="spacingAndGlyphs" xml:space="preserve" >48520(LH)</text>
<text x="473.4" y="292.3" font-family="Liberation Mono" font-weight="bold" font-size="25.81" textLength="106.1" lengthAdjust="spacingAndGlyphs" xml:space="preserve" >48131(RH)</text>
<text x="473.4" y="314.3" font-family="Liberation Mono" font-weight="bold" font-size="25.81" textLength="106.1" lengthAdjust="spacingAndGlyphs" xml:space="preserve" >48132(LH)</text>
<text x="458.7" y="447.2" font-family="Liberation Mono" font-weight="bold" font-size="25.81" textLength="117.6" lengthAdjust="spacingAndGlyphs" xml:space="preserve" >48158B(RH)</text>
<text x="458.7" y="469.2" font-family="Liberation Mono" font-weight="bold" font-size="25.81" textLength="117.6" lengthAdjust="spacingAndGlyphs" xml:space="preserve" >48158C(LH)</text>
<text x="347.5" y="565.6" font-family="Liberation Mono" font-weight="bold" font-size="25.81" textLength="117.6" lengthAdjust="spacingAndGlyphs" xml:space="preserve" >48824A(RH)</text>
<text x="347.5" y="587.8" font-family="Liberation Mono" font-weight="bold" font-size="25.81" textLength="117.6" lengthAdjust="spacingAndGlyphs" xml:space="preserve" >48829A(LH)</text>
<text x="337.3" y="655.3" font-family="Liberation Mono" font-weight="bold" font-size="25.81" textLength="60.1" lengthAdjust="spacingAndGlyphs" xml:space="preserve" >48815</text>
<text x="51.8" y="729.8" font-family="Liberation Mono" font-weight="bold" font-size="25.81" textLength="60.1" lengthAdjust="spacingAndGlyphs" xml:space="preserve" >48811</text>
<text x="69.3" y="778.5" font-family="Liberation Mono" font-weight="bold" font-size="25.81" textLength="71.6" lengthAdjust="spacingAndGlyphs" xml:space="preserve" >48820A</text>
<text x="316.0" y="728.2" font-family="Liberation Mono" font-weight="bold" font-size="25.81" textLength="117.6" lengthAdjust="spacingAndGlyphs" xml:space="preserve" >48820B(RH)</text>
<rect x="306.6" y="731" width="119.8" height="31.6" fill="#fff" stroke="#2f4454" stroke-width="4.5"/>
<text x="316.0" y="753.7" font-family="Liberation Mono" font-weight="bold" font-size="25.81" textLength="106.1" lengthAdjust="spacingAndGlyphs" xml:space="preserve" >48810(LH)</text>
<text x="760.2" y="808" font-family="Liberation Mono" font-weight="bold" font-size="25.81" textLength="71.6" lengthAdjust="spacingAndGlyphs" xml:space="preserve" >48820A</text>
<text x="812.0" y="833.7" font-family="Liberation Mono" font-weight="bold" font-size="25.81" textLength="60.1" lengthAdjust="spacingAndGlyphs" xml:space="preserve" >48553</text>
<text x="994.8000000000001" y="191.2" font-family="Liberation Mono" font-weight="bold" font-size="21.25" textLength="141.7" lengthAdjust="spacingAndGlyphs" xml:space="preserve" >90387-15033(2)</text>
<text x="174.9" y="428.2" font-family="Liberation Mono" font-weight="bold" font-size="21.25" textLength="141.7" lengthAdjust="spacingAndGlyphs" xml:space="preserve" >90119-10993(4)</text>
<text x="174.9" y="447.3" font-family="Liberation Mono" font-weight="bold" font-size="21.25" textLength="141.7" lengthAdjust="spacingAndGlyphs" xml:space="preserve" >90119-W0327(4)</text>
<text x="140.2" y="429.2" font-family="&quot;Liberation Sans&quot;, &quot;Noto Sans CJK JP&quot;, sans-serif" font-weight="normal" font-size="18.8" xml:space="preserve">※</text>
<text x="140.2" y="448.8" font-family="&quot;Liberation Sans&quot;, &quot;Noto Sans CJK JP&quot;, sans-serif" font-weight="normal" font-size="18.8" xml:space="preserve">※</text>
<text x="160.5" y="427.8" font-family="Liberation Sans" font-weight="normal" font-size="19.19" textLength="7.5" lengthAdjust="spacingAndGlyphs" xml:space="preserve" >1</text>
<text x="159.5" y="447.4" font-family="Liberation Sans" font-weight="normal" font-size="19.19" textLength="10.0" lengthAdjust="spacingAndGlyphs" xml:space="preserve" >2</text>
<text x="55.8" y="1007.2" font-family="&quot;Liberation Sans&quot;, &quot;Noto Sans CJK JP&quot;, sans-serif" font-weight="normal" font-size="18.8" xml:space="preserve">※</text>
<text x="55.8" y="1030.5" font-family="&quot;Liberation Sans&quot;, &quot;Noto Sans CJK JP&quot;, sans-serif" font-weight="normal" font-size="18.8" xml:space="preserve">※</text>
<text x="76.8" y="1005.6" font-family="Liberation Sans" font-weight="normal" font-size="18.31" textLength="6.2" lengthAdjust="spacingAndGlyphs" xml:space="preserve" >1</text>
<text x="75.6" y="1029" font-family="Liberation Sans" font-weight="normal" font-size="18.31" textLength="8.8" lengthAdjust="spacingAndGlyphs" xml:space="preserve" >2</text>
<text x="90.2" y="1005.6" font-family="Liberation Sans" font-weight="normal" font-size="18.31" textLength="218.4" lengthAdjust="spacingAndGlyphs" xml:space="preserve" >JAPAN SOURCED PARTS</text>
<text x="90.6" y="1029" font-family="Liberation Sans" font-weight="normal" font-size="18.31" textLength="218.0" lengthAdjust="spacingAndGlyphs" xml:space="preserve" >LOCAL SOURCED PARTS</text>
<text x="430.4" y="930.8" font-family="Liberation Mono" font-weight="bold" font-size="20.34" textLength="86.4" lengthAdjust="spacingAndGlyphs" xml:space="preserve" >REFER TO</text>
<text x="430.4" y="952.8" font-family="Liberation Mono" font-weight="bold" font-size="20.34" textLength="97.1" lengthAdjust="spacingAndGlyphs" xml:space="preserve" >FIG 48-02</text>
<text x="430.4" y="975.9" font-family="Liberation Mono" font-weight="bold" font-size="20.34" textLength="171.9" lengthAdjust="spacingAndGlyphs" xml:space="preserve" >(PNC 43211L(RH))</text>
<text x="430.4" y="998.5" font-family="Liberation Mono" font-weight="bold" font-size="20.34" textLength="171.9" lengthAdjust="spacingAndGlyphs" xml:space="preserve" >(PNC 43212E(LH))</text>
<text x="848.8" y="867.6" font-family="Liberation Mono" font-weight="bold" font-size="20.34" textLength="86.4" lengthAdjust="spacingAndGlyphs" xml:space="preserve" >REFER TO</text>
<text x="848.8" y="890.5" font-family="Liberation Mono" font-weight="bold" font-size="20.34" textLength="97.1" lengthAdjust="spacingAndGlyphs" xml:space="preserve" >FIG 48-02</text>
<text x="848.8" y="913.8" font-family="Liberation Mono" font-weight="bold" font-size="20.34" textLength="171.9" lengthAdjust="spacingAndGlyphs" xml:space="preserve" >(PNC 43211K(RH))</text>
<text x="848.8" y="936.5" font-family="Liberation Mono" font-weight="bold" font-size="20.34" textLength="171.9" lengthAdjust="spacingAndGlyphs" xml:space="preserve" >(PNC 43212D(LH))</text>
<text x="1247.3" y="891.6" font-family="Liberation Mono" font-weight="bold" font-size="20.34" textLength="86.4" lengthAdjust="spacingAndGlyphs" xml:space="preserve" >REFER TO</text>
<text x="1247.3" y="914.6" font-family="Liberation Mono" font-weight="bold" font-size="20.34" textLength="97.1" lengthAdjust="spacingAndGlyphs" xml:space="preserve" >FIG 48-02</text>
<text x="1247.3" y="937.6" font-family="Liberation Mono" font-weight="bold" font-size="20.34" textLength="161.2" lengthAdjust="spacingAndGlyphs" xml:space="preserve" >(PNC 43211(RH))</text>
<text x="1247.3" y="960.2" font-family="Liberation Mono" font-weight="bold" font-size="20.34" textLength="161.2" lengthAdjust="spacingAndGlyphs" xml:space="preserve" >(PNC 43212(LH))</text>
<text x="1509.6" y="1089.5" font-family="Liberation Sans" font-weight="normal" font-size="18.31" textLength="79.2" lengthAdjust="spacingAndGlyphs" xml:space="preserve" >484742C</text>
<text x="720" y="736.3" font-family="Liberation Sans" font-weight="normal" font-size="19.04" textLength="49.3" lengthAdjust="spacingAndGlyphs" xml:space="preserve" >MARK</text>
</g>
</svg>
</body></html>
